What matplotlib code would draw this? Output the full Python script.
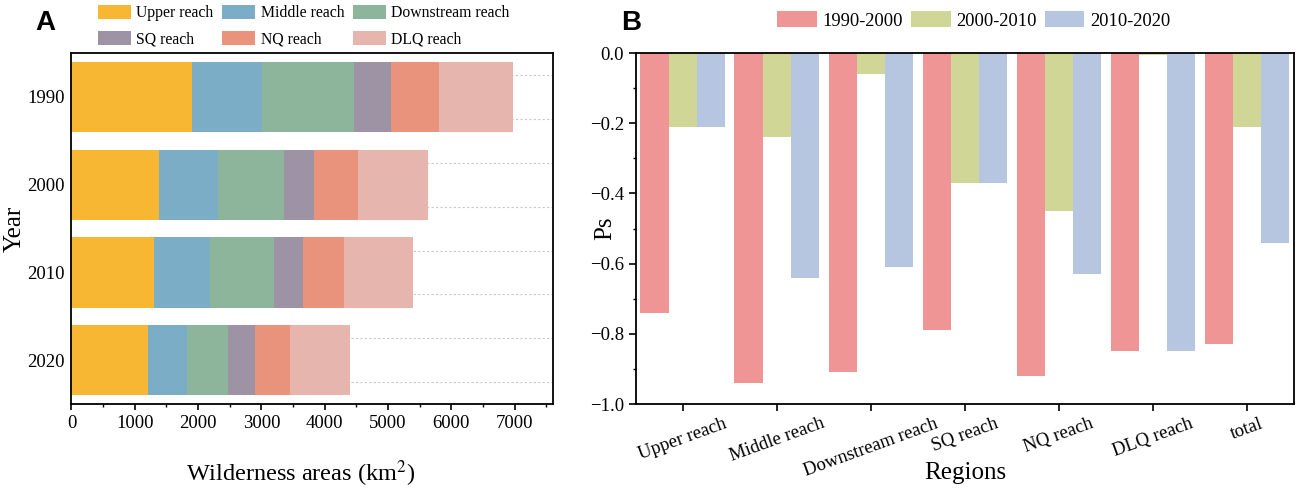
import numpy as np
import matplotlib
matplotlib.use("Agg")
import matplotlib.pyplot as plt
from matplotlib.ticker import MultipleLocator

plt.rcParams['font.family'] = ['Liberation Serif', 'DejaVu Serif']
plt.rcParams['mathtext.fontset'] = 'stix'

# panel A data: wilderness area (km2) by reach and year
years = ["1990", "2000", "2010", "2020"]
reaches = ["Upper reach", "Middle reach", "Downstream reach", "SQ reach", "NQ reach", "DLQ reach"]
upper = [1910, 1390, 1310, 1210]
middle = [1097, 923, 878, 608]
downstream = [1458, 1036, 1014, 658]
sq = [574, 479, 450, 417]
nq = [772, 698, 653, 552]
dlq = [1154, 1104, 1093, 951]
reach_colors = ["#F7B733", "#7BADC7", "#8DB59B", "#9D93A5", "#E9937D", "#E6B5AE"]

# panel B data: Ps by region and period
regions = ["Upper reach", "Middle reach", "Downstream reach", "SQ reach", "NQ reach", "DLQ reach", "total"]
periods = ["1990-2000", "2000-2010", "2010-2020"]
ps_1990_2000 = [-0.74, -0.94, -0.91, -0.79, -0.92, -0.85, -0.83]
ps_2000_2010 = [-0.21, -0.24, -0.06, -0.37, -0.45, -0.006, -0.21]
ps_2010_2020 = [-0.21, -0.64, -0.61, -0.37, -0.63, -0.85, -0.54]
period_colors = ["#F09595", "#CFD696", "#B6C6E0"]

fig = plt.figure(figsize=(12.99, 4.91), dpi=100)
axA = fig.add_axes([0.055, 0.177, 0.3705, 0.715])
axB = fig.add_axes([0.4894, 0.177, 0.5068, 0.715])

# ---- panel A ----
series = [upper, middle, downstream, sq, nq, dlq]
y = np.arange(len(years))
left = np.zeros(len(years))
for i in range(len(years)):
    for off in (-0.25, 0.25):
        axA.plot([0, 7600], [i + off, i + off], color="#C8C8C8", lw=0.8,
                 ls=(0, (2, 2)), zorder=0)
handlesA = []
for vals, name, c in zip(series, reaches, reach_colors):
    h = axA.barh(y, vals, left=left, height=0.8, color=c, label=name, zorder=2)
    handlesA.append(h)
    left += np.array(vals)
axA.set_xlim(0, 7600)
axA.set_ylim(3.5, -0.5)
axA.set_yticks(y)
axA.set_yticklabels(years)
axA.xaxis.set_major_locator(MultipleLocator(1000))
axA.xaxis.set_minor_locator(MultipleLocator(500))
axA.tick_params(axis='y', length=0, labelsize=13.5, pad=5)
axA.tick_params(axis='x', which='major', direction='out', length=4, width=1.2, labelsize=13.5)
axA.tick_params(axis='x', which='minor', direction='out', length=2, width=1.0)
for s in axA.spines.values():
    s.set_linewidth(1.3)
axA.set_xlabel("Wilderness areas (km$^2$)", fontsize=17.5, va="center")
axA.xaxis.set_label_coords(0.475, -0.197)
axA.set_ylabel("Year", fontsize=18, va="center")
axA.yaxis.set_label_coords(-0.118, 0.5)

# row-wise legend order for ncol=3
order = [0, 3, 1, 4, 2, 5]
fig.legend([handlesA[i] for i in order], [reaches[i] for i in order],
           loc="upper left", bbox_to_anchor=(0.0754, 0.99), ncol=3, frameon=False,
           fontsize=11.3, handlelength=2.1, handleheight=1.0, columnspacing=0.55,
           handletextpad=0.35, labelspacing=0.62, borderpad=0.0, borderaxespad=0.0)

# ---- panel B ----
x = np.arange(len(regions))
w = 0.3
handlesB = []
for k, (vals, name, c) in enumerate(zip([ps_1990_2000, ps_2000_2010, ps_2010_2020], periods, period_colors)):
    h = axB.bar(x + (k - 1) * w, vals, width=w, color=c, label=name, zorder=2)
    handlesB.append(h)
axB.set_xlim(-0.5, 6.5)
axB.set_ylim(-1.0, 0.0)
axB.set_xticks(x)
axB.set_xticklabels(regions, rotation=20, ha="center", va="top")
axB.yaxis.set_major_locator(MultipleLocator(0.2))
axB.yaxis.set_minor_locator(MultipleLocator(0.1))
axB.yaxis.set_major_formatter(plt.FuncFormatter(lambda v, p: f"{v:.1f}".replace("-", "\u2212")))
axB.tick_params(axis='both', which='major', direction='out', length=5, width=1.2, labelsize=13.5)
axB.tick_params(axis='x', pad=3)
axB.tick_params(axis='y', which='minor', direction='out', length=2.5, width=1.0)
for s in axB.spines.values():
    s.set_linewidth(1.3)
axB.set_xlabel("Regions", fontsize=18, va="center")
axB.xaxis.set_label_coords(0.5, -0.197)
axB.set_ylabel("Ps", fontsize=18, va="center")
axB.yaxis.set_label_coords(-0.047, 0.5)
fig.legend(handlesB, periods, loc="upper left", bbox_to_anchor=(0.598, 0.977), ncol=3,
           frameon=False, fontsize=13.3, handlelength=2.16, handleheight=0.97,
           columnspacing=0.4, handletextpad=0.33, borderpad=0.0, borderaxespad=0.0)

fig.text(0.027, 0.953, "A", fontsize=20, fontweight="bold", family="Liberation Sans", va="center")
fig.text(0.478, 0.953, "B", fontsize=20, fontweight="bold", family="Liberation Sans", va="center")

fig.savefig("out.png", dpi=100)
